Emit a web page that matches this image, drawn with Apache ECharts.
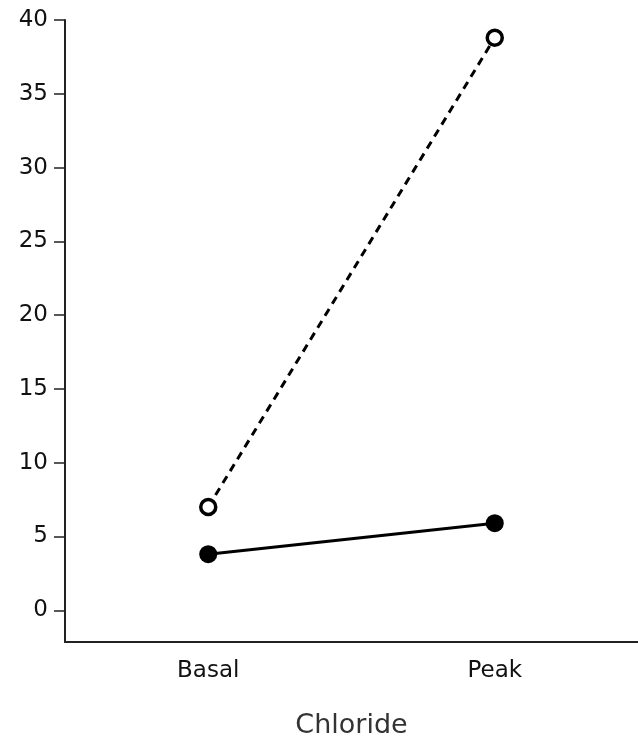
<!DOCTYPE html>
<html>
<head>
<meta charset="utf-8">
<script src="https://cdn.jsdelivr.net/npm/echarts@6/dist/echarts.min.js"></script>
<style>html,body{margin:0;padding:0;background:#fff;}#c{width:638px;height:736px;}</style>
</head>
<body>
<div id="c"></div>
<script>
const categories = ['Basal', 'Peak'];
const openSeries = [7.0, 38.8];
const filledSeries = [3.8, 5.9];
const yTicks = [0, 5, 10, 15, 20, 25, 30, 35, 40];
const xTitle = 'Chloride';

const font = 'DejaVu Sans';
const chart = echarts.init(document.getElementById('c'), null, {renderer: 'canvas'});
chart.setOption({
  animation: false,
  backgroundColor: '#fff',
  grid: {left: 65, right: 0, top: 20, bottom: 94, containLabel: false, outerBoundsMode: 'none'},
  xAxis: {
    type: 'category',
    data: categories,
    boundaryGap: true,
    name: xTitle,
    nameLocation: 'middle',
    nameGap: 70,
    nameTextStyle: {fontFamily: font, fontSize: 27, color: '#333'},
    axisLine: {onZero: false, lineStyle: {color: '#222', width: 2}},
    axisTick: {alignWithLabel: true, length: 8, lineStyle: {color: '#222', width: 1.5}},
    axisLabel: {fontFamily: font, fontSize: 23, color: '#111', margin: 18},
    splitLine: {show: false}
  },
  yAxis: {
    type: 'value',
    min: -2.15,
    max: 40,
    axisLine: {show: true, lineStyle: {color: '#222', width: 2}},
    axisTick: {show: true, length: 11, customValues: yTicks, lineStyle: {color: '#222', width: 1.5}},
    axisLabel: {
      fontFamily: font, fontSize: 23, color: '#111', margin: 17,
      customValues: yTicks
    },
    splitLine: {show: false}
  },
  series: [
    {
      type: 'line',
      data: openSeries,
      symbol: 'circle',
      symbolSize: 15,
      itemStyle: {color: '#fff', borderColor: '#000', borderWidth: 3.5},
      lineStyle: {color: '#000', width: 3, type: [8, 6]},
      z: 3
    },
    {
      type: 'line',
      data: filledSeries,
      symbol: 'circle',
      symbolSize: 18,
      itemStyle: {color: '#000', borderColor: '#000', borderWidth: 0},
      lineStyle: {color: '#000', width: 3},
      z: 4
    }
  ]
});
</script>
</body>
</html>
